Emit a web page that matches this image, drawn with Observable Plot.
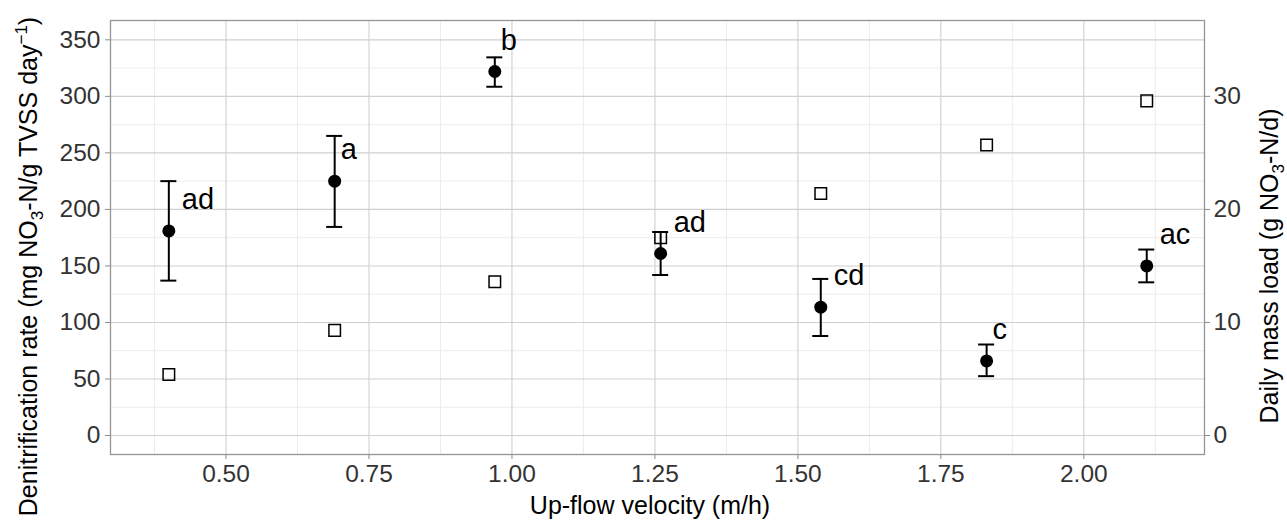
<!DOCTYPE html>
<html>
<head>
<meta charset="utf-8">
<script src="https://cdn.jsdelivr.net/npm/d3@7"></script>
<script src="https://cdn.jsdelivr.net/npm/@observablehq/plot@0.6"></script>
<style>
  html, body { margin: 0; padding: 0; background: white; }
  svg { display: block; }
</style>
</head>
<body>
<script>
// ---- Data ----
const velocity = [0.40, 0.69, 0.97, 1.26, 1.54, 1.83, 2.11];            // Up-flow velocity (m/h)
const rate     = [181, 225, 322, 161, 113.5, 66, 150];                  // denitrification rate
const rateLow  = [137, 184.5, 308.5, 142, 88, 52.5, 135.5];             // error bar lower
const rateHigh = [225, 265, 334.5, 180, 138.5, 80.5, 164.5];            // error bar upper
const massLoad = [5.4, 9.3, 13.6, 17.5, 21.4, 25.7, 29.6];              // daily mass load (g NO3-N/d)
const letters  = ["ad", "a", "b", "ad", "cd", "c", "ac"];               // significance letters

// ---- Tick labels ----
const xTicks  = [0.50, 0.75, 1.00, 1.25, 1.50, 1.75, 2.00];
const xMinor  = [0.375, 0.625, 0.875, 1.125, 1.375, 1.625, 1.875, 2.125];
const yTicks  = [0, 50, 100, 150, 200, 250, 300, 350];
const yMinor  = [25, 75, 125, 175, 225, 275, 325];
const y2Ticks = [0, 10, 20, 30];
const LOAD_FACTOR = 10; // secondary axis = primary / 10

const rows = velocity.map((v, i) => ({
  v, rate: rate[i], lo: rateLow[i], hi: rateHigh[i], load: massLoad[i], letter: letters[i]
}));

const CAP = 0.014;
const FONT = "'Liberation Sans', Arial, Helvetica, sans-serif";

const plot = Plot.plot({
  width: 1287,
  height: 524,
  marginLeft: 110,
  marginRight: 83,
  marginTop: 20,
  marginBottom: 70,
  style: { fontFamily: FONT, background: "white", overflow: "visible" },
  x: { domain: [0.298, 2.211] },
  y: { domain: [-16.8, 367.1] },
  marks: [
    Plot.ruleX(xMinor, { stroke: "#ececec", strokeWidth: 1 }),
    Plot.ruleY(yMinor, { stroke: "#ececec", strokeWidth: 1 }),
    Plot.ruleX(xTicks, { stroke: "#d0d0d0", strokeWidth: 1.1 }),
    Plot.ruleY(yTicks, { stroke: "#d0d0d0", strokeWidth: 1.1 }),
    Plot.frame({ stroke: "#959595", strokeWidth: 1.3 }),
    Plot.axisX(xTicks, {
      tickFormat: d3.format(".2f"), tickSize: 5, tickPadding: 5, fontSize: 24.5,
      label: null, stroke: "#8c8c8c", color: "#333"
    }),
    Plot.axisY(yTicks, {
      anchor: "left", tickSize: 5, tickPadding: 5, fontSize: 24.5,
      label: null, stroke: "#8c8c8c", color: "#333"
    }),
    Plot.axisY(y2Ticks.map(t => t * LOAD_FACTOR), {
      anchor: "right", tickFormat: d => d / LOAD_FACTOR, tickSize: 5, tickPadding: 4, fontSize: 24.5,
      label: null, stroke: "#8c8c8c", color: "#333"
    }),
    // error bars
    Plot.ruleX(rows, { x: "v", y1: "lo", y2: "hi", stroke: "black", strokeWidth: 2 }),
    Plot.ruleY(rows, { y: "lo", x1: d => d.v - CAP, x2: d => d.v + CAP, stroke: "black", strokeWidth: 2 }),
    Plot.ruleY(rows, { y: "hi", x1: d => d.v - CAP, x2: d => d.v + CAP, stroke: "black", strokeWidth: 2 }),
    // denitrification rate points
    Plot.dot(rows, { x: "v", y: "rate", r: 6.5, fill: "black", stroke: null }),
    // daily mass load squares (secondary axis)
    Plot.dot(rows, { x: "v", y: d => d.load * LOAD_FACTOR, symbol: "square", r: 6.5, fill: "none", stroke: "black", strokeWidth: 1.5 }),
    // letters
    Plot.text(rows.filter(d => d.letter.length === 1), {
      x: "v", y: "rate", text: "letter", textAnchor: "start", lineAnchor: "bottom",
      dx: 6, dy: -21.7, fontSize: 29, fill: "black"
    }),
    Plot.text(rows.filter(d => d.letter.length > 1), {
      x: "v", y: "rate", text: "letter", textAnchor: "start", lineAnchor: "bottom",
      dx: 13, dy: -21.7, fontSize: 29, fill: "black"
    })
  ]
});

document.body.appendChild(plot);

// ---- Axis titles (with sub/superscripts) ----
const svg = d3.select(plot);

svg.append("text")
  .attr("x", 650).attr("y", 514)
  .attr("text-anchor", "middle")
  .attr("font-family", FONT).attr("font-size", 25).attr("fill", "black")
  .text("Up-flow velocity (m/h)");

const lt = svg.append("text")
  .attr("transform", "translate(37,266.5) rotate(-90)")
  .attr("text-anchor", "middle")
  .attr("font-family", FONT).attr("font-size", 25).attr("fill", "black");
lt.append("tspan").text("Denitrification rate (mg NO");
lt.append("tspan").attr("font-size", 17).attr("dy", 6).text("3");
lt.append("tspan").attr("dy", -6).text("-N/g TVSS day");
lt.append("tspan").attr("font-size", 17).attr("dy", -10).text("\u22121");
lt.append("tspan").attr("dy", 10).text(")");

const rt = svg.append("text")
  .attr("transform", "translate(1278,266) rotate(-90)")
  .attr("text-anchor", "middle")
  .attr("font-family", FONT).attr("font-size", 25).attr("fill", "black");
rt.append("tspan").text("Daily mass load (g NO");
rt.append("tspan").attr("font-size", 17).attr("dy", 6).text("3");
rt.append("tspan").attr("dy", -6).text("-N/d)");
</script>
</body>
</html>
